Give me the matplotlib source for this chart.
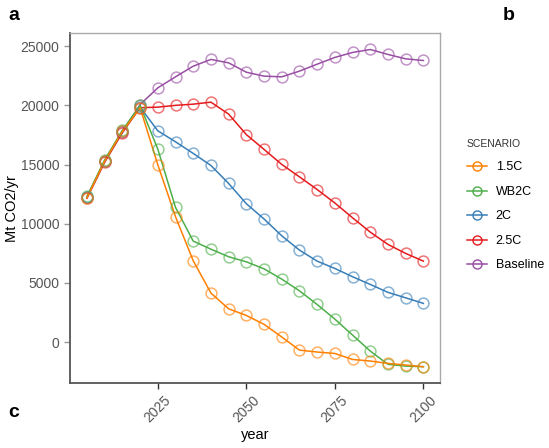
import matplotlib.pyplot as plt
from matplotlib.lines import Line2D

plt.rcParams['font.family'] = ['Liberation Sans', 'DejaVu Sans']

# emissions pathways, Mt CO2 per year, 5-year steps
years = list(range(2005, 2101, 5))

emis_15c = [12200, 15300, 17800, 19800, 14980, 10590, 6870, 4140, 2810, 2250,
            1500, 430, -680, -840, -960, -1470, -1600, -1800, -1940, -2080]
emis_wb2c = [12300, 15400, 17900, 20000, 16300, 11380, 8530, 7850, 7210, 6780,
             6190, 5320, 4330, 3180, 1940, 590, -760, -1880, -2030, -2080]
emis_2c = [12250, 15300, 17800, 19850, 17850, 16920, 15940, 14920, 13400, 11690,
           10400, 8980, 7770, 6840, 6220, 5520, 4870, 4200, 3740, 3270]
emis_25c = [12150, 15200, 17700, 19800, 19850, 20000, 20100, 20270, 19260, 17530,
            16280, 15010, 13960, 12890, 11750, 10500, 9290, 8250, 7490, 6840]
emis_base = [12270, 15290, 17710, 20070, 21480, 22410, 23310, 23880, 23590, 22800,
             22470, 22410, 22890, 23480, 24050, 24470, 24720, 24300, 23930, 23790]

scenarios = ['1.5C', 'WB2C', '2C', '2.5C', 'Baseline']
series = [emis_15c, emis_wb2c, emis_2c, emis_25c, emis_base]
colors = ['#FF7F00', '#4DAF4A', '#377EB8', '#E41A1C', '#984EA3']

fig = plt.figure(figsize=(5.49, 4.48), dpi=100)
ax = fig.add_axes([0.1275, 0.145, 0.674, 0.781])

# draw baseline first so the mitigation scenarios sit on top
for name, vals, col in reversed(list(zip(scenarios, series, colors))):
    ax.plot(years, vals, color=col, lw=1.1, zorder=2)
    ax.plot(years, vals, ls='none', marker='o', ms=7.8, mfc='none',
            mec=col, mew=1.1, alpha=0.6, zorder=3)

ax.set_xlim(2000.2, 2104.7)
ax.set_ylim(-3460, 26100)
ax.set_xticks([2025, 2050, 2075, 2100])
ax.set_yticks([0, 5000, 10000, 15000, 20000, 25000])
ax.tick_params(axis='x', labelrotation=45, labelsize=10, colors='#333333',
               labelcolor='#555555', length=4, width=1)
ax.tick_params(axis='y', labelsize=10, colors='#999999',
               labelcolor='#555555', length=4, width=1)
for lab in ax.get_xticklabels():
    lab.set_ha('center')
    lab.set_rotation_mode('default')

for side in ['top', 'right']:
    ax.spines[side].set_color('#aaaaaa')
    ax.spines[side].set_linewidth(1.0)
for side in ['left', 'bottom']:
    ax.spines[side].set_color('#555555')
    ax.spines[side].set_linewidth(1.3)

ax.set_xlabel('year', fontsize=10.5, labelpad=2)
ax.set_ylabel('Mt CO2/yr', fontsize=10.5, labelpad=1)

handles = [Line2D([], [], color=c, lw=1.1, marker='o', ms=6.5, mfc='none',
                  mec=c, mew=1.0) for c in colors]
leg = fig.legend(handles, scenarios, title='SCENARIO', loc='upper left',
                 bbox_to_anchor=(0.83, 0.715), frameon=False, fontsize=9,
                 title_fontsize=7.5, handlelength=1.6, labelspacing=1.0,
                 handletextpad=0.7)
leg._legend_box.align = 'left'
leg.get_title().set_color('#333333')

fig.text(0.015, 0.965, 'a', fontsize=14, fontweight='bold', va='center')
fig.text(0.915, 0.965, 'b', fontsize=14, fontweight='bold', va='center')
fig.text(0.015, 0.08, 'c', fontsize=14, fontweight='bold', va='center')

fig.savefig('out.png', dpi=100)
